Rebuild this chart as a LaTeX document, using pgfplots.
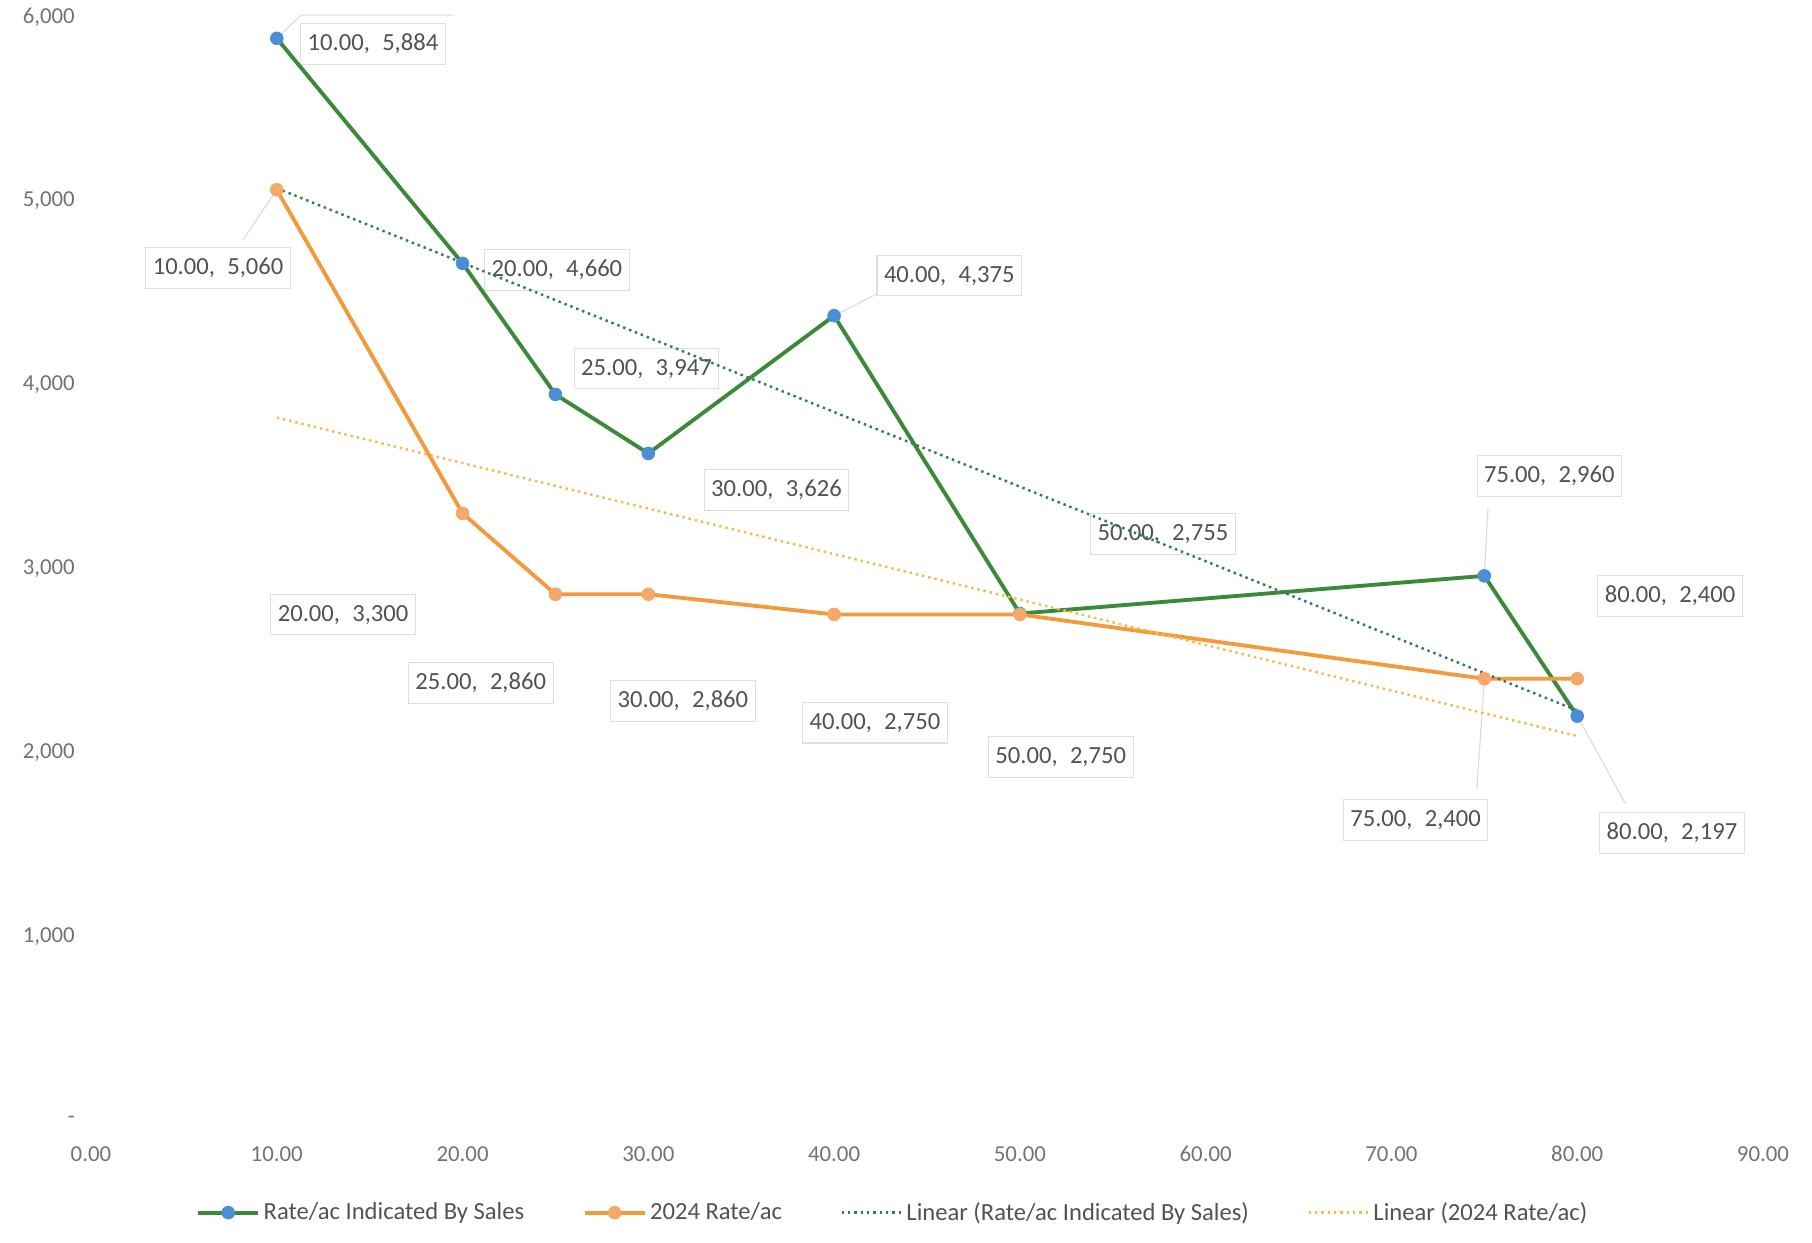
\documentclass[border=0pt]{standalone}
\usepackage{fontspec}
\setmainfont{Carlito}
\usepackage{pgfplots}
\pgfplotsset{compat=1.18}
\definecolor{sgreen}{HTML}{3A8A3A}
\definecolor{sblue}{HTML}{4A8FD6}
\definecolor{sorange}{HTML}{F39A3D}
\definecolor{sorangemk}{HTML}{F5A86A}
\definecolor{tgreen}{HTML}{2E7D5B}
\definecolor{torange}{HTML}{F6B94A}
\tikzset{dl/.style={draw=black!13, line width=0.6pt, fill=white, text=black!68,
  font=\fontsize{14}{16}\selectfont, inner xsep=4pt, inner ysep=6pt},
  lead/.style={draw=black!15, line width=0.6pt}}
\newcommand{\lb}[2]{#1,\hspace{0.5em}#2}
\begin{document}
\begin{tikzpicture}
\useasboundingbox (-1.82,-2.44) rectangle (34.42,22.40);
\begin{axis}[
  at={(0,0)}, anchor=south west,
  scale only axis, width=33.44cm, height=22.06cm,
  xmin=0, xmax=90, ymin=0, ymax=6000,
  axis line style={draw=none}, clip=false,
  xtick pos=bottom, ytick pos=left,
  xtick={0,10,...,90},
  xticklabels={0.00,10.00,20.00,30.00,40.00,50.00,60.00,70.00,80.00,90.00},
  ytick={0,1000,...,6000},
  yticklabels={{-\hspace{1.2em}},{1,000},{2,000},{3,000},{4,000},{5,000},{6,000}},
  major tick length=0pt,
  tick label style={font=\fontsize{13}{15}\selectfont, text=black!55},
  yticklabel style={xshift=-0.2cm},
  xticklabel style={yshift=-0.4cm},
  legend columns=4,
  legend style={at={(0.48,-0.084)}, anchor=center, draw=none, fill=none,
    font=\fontsize{14}{16}\selectfont, text=black!68,
    /tikz/every even column/.append style={column sep=1.1cm}},
  legend image code/.code={\draw[mark repeat=2,mark phase=2,#1] plot coordinates {(0cm,0cm) (0.6cm,0cm) (1.2cm,0cm)};},
]
% leader lines
\draw[lead] (axis cs:10,5884) -- (axis cs:11.3,6010) -- (axis cs:19.5,6010);
\draw[lead] (axis cs:10,5060) -- (axis cs:8.2,4790);
\draw[lead] (axis cs:40,4375) -- (axis cs:42.8,4520);
\draw[lead] (axis cs:80,2197) -- (axis cs:82.6,1720);
\draw[lead] (axis cs:75,2960) -- (axis cs:75.2,3330);
\draw[lead] (axis cs:75,2400) -- (axis cs:74.6,1800);
% data labels
\node[dl] at (axis cs:15.18,5854) {\lb{10.00}{5,884}};
\node[dl] at (axis cs:6.84,4635) {\lb{10.00}{5,060}};
\node[dl] at (axis cs:25.08,4624) {\lb{20.00}{4,660}};
\node[dl] at (axis cs:29.9,4086) {\lb{25.00}{3,947}};
\node[dl] at (axis cs:46.2,4592) {\lb{40.00}{4,375}};
\node[dl] at (axis cs:36.9,3428) {\lb{30.00}{3,626}};
\node[dl] at (axis cs:13.57,2748) {\lb{20.00}{3,300}};
\node[dl] at (axis cs:20.98,2378) {\lb{25.00}{2,860}};
\node[dl] at (axis cs:31.86,2279) {\lb{30.00}{2,860}};
\node[dl] at (axis cs:42.2,2160) {\lb{40.00}{2,750}};
\node[dl] at (axis cs:57.7,3188) {\lb{50.00}{2,755}};
\node[dl] at (axis cs:52.2,1975) {\lb{50.00}{2,750}};
\node[dl] at (axis cs:78.5,3504) {\lb{75.00}{2,960}};
\node[dl] at (axis cs:85.0,2851) {\lb{80.00}{2,400}};
\node[dl] at (axis cs:71.3,1632) {\lb{75.00}{2,400}};
\node[dl] at (axis cs:85.1,1561) {\lb{80.00}{2,197}};
% series
\addplot[color=sgreen, line width=2.2pt, mark=*, mark size=3.6pt,
  mark options={draw=sblue, fill=sblue, line width=0.5pt}]
  coordinates {(10,5884) (20,4660) (25,3947) (30,3626) (40,4375) (50,2755) (75,2960) (80,2197)};
\addlegendentry{Rate/ac Indicated By Sales}
\addplot[color=sorange, line width=2.2pt, mark=*, mark size=3.6pt,
  mark options={draw=sorangemk, fill=sorangemk, line width=0.5pt}]
  coordinates {(10,5060) (20,3300) (25,2860) (30,2860) (40,2750) (50,2750) (75,2400) (80,2400)};
\addlegendentry{2024 Rate/ac}
% linear trendlines (least-squares fits of the two series)
\addplot[color=tgreen, line width=1.4pt, dash pattern=on 1.4pt off 2.2pt, no marks]
  coordinates {(10,5068.8) (80,2227.8)};
\addlegendentry{Linear (Rate/ac Indicated By Sales)}
\addplot[color=torange, line width=1.4pt, dash pattern=on 1.4pt off 2.2pt, no marks]
  coordinates {(10,3820.7) (80,2088.7)};
\addlegendentry{Linear (2024 Rate/ac)}
\end{axis}
\end{tikzpicture}
\end{document}
